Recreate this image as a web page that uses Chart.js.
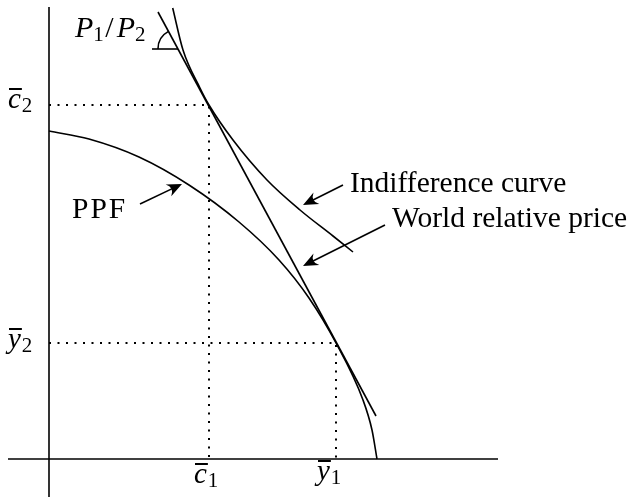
<!DOCTYPE html>
<html>
<head>
<meta charset="utf-8">
<script src="https://cdn.jsdelivr.net/npm/chart.js@4"></script>
<style>
  body { margin: 0; background: #fff; }
  #wrap { width: 639px; height: 499px; position: relative; }
</style>
</head>
<body>
<div id="wrap"><canvas id="ppfChart"></canvas></div>
<script>
'use strict';

// values (origin = where the axes cross)
const ppfX = [0, 40, 90, 140, 190, 230, 260, 287, 314, 323, 328];
const ppfY = [328, 320, 302, 274, 237, 199, 161, 116, 59, 29, 0];

const icX = [123.7, 134, 151, 160, 184, 218, 251, 284, 304];
const icY = [451, 409, 371, 354, 319, 279, 249, 223, 207];

const priceX = [109, 327];
const priceY = [447, 43];

const cBar = [160, 354];   // consumption point (c1, c2)
const yBar = [287, 116];   // production point (y1, y2)

const xAxisRange = [-41, 449];
const yAxisRange = [-38, 452];

function pts(xs, ys) {
    return xs.map((x, i) => ({ x: x, y: ys[i] }));
}

const black = '#000';

function line(data, extra) {
    return Object.assign({
        data: data,
        showLine: true,
        borderColor: black,
        borderWidth: 1.6,
        pointRadius: 0,
        fill: false
    }, extra || {});
}

const datasets = [
    line(pts(xAxisRange, [0, 0])),
    line(pts([0, 0], yAxisRange)),
    line([{ x: 0, y: cBar[1] }, { x: cBar[0], y: cBar[1] }, { x: cBar[0], y: 0 }],
        { borderDash: [2, 6.5], borderWidth: 2 }),
    line([{ x: 0, y: yBar[1] }, { x: yBar[0], y: yBar[1] }, { x: yBar[0], y: 0 }],
        { borderDash: [2, 6.5], borderWidth: 2 }),
    line(pts(ppfX, ppfY), { cubicInterpolationMode: 'monotone' }),
    line(pts(icX, icY), { cubicInterpolationMode: 'monotone' }),
    line(pts(priceX, priceY))
];

const SERIF = '"Liberation Serif", "DejaVu Serif", serif';

function arrow(ctx, x1, y1, x2, y2) {
    const a = Math.atan2(y2 - y1, x2 - x1);
    const len = 15, w = 6.5;
    const c = Math.cos(a), s = Math.sin(a);
    ctx.beginPath();
    ctx.moveTo(x1, y1);
    ctx.lineTo(x2 - c * len * 0.6, y2 - s * len * 0.6);
    ctx.stroke();
    ctx.beginPath();
    ctx.moveTo(x2, y2);
    ctx.lineTo(x2 - c * len - s * w, y2 - s * len + c * w);
    ctx.quadraticCurveTo(x2 - c * len * 0.55, y2 - s * len * 0.55,
        x2 - c * len + s * w, y2 - s * len - c * w);
    ctx.closePath();
    ctx.fill();
}

// italic letter with a bar on top and an upright subscript
function barSym(ctx, x, y, letter, sub) {
    ctx.font = 'italic 29px ' + SERIF;
    ctx.fillText(letter, x, y);
    const w = ctx.measureText(letter).width;
    ctx.fillRect(x + 1, y - 20, w, 2);
    ctx.font = '21px ' + SERIF;
    ctx.fillText(sub, x + w + 1, y + 4);
}

const annotations = {
    id: 'annotations',
    afterDatasetsDraw(chart) {
        const ctx = chart.ctx;
        const xs = chart.scales.x, ys = chart.scales.y;
        const px = v => xs.getPixelForValue(v);
        const py = v => ys.getPixelForValue(v);

        ctx.save();
        ctx.fillStyle = black;
        ctx.strokeStyle = black;
        ctx.lineWidth = 1.6;
        ctx.textBaseline = 'alphabetic';

        // text labels
        ctx.font = '29.5px ' + SERIF;
        ctx.fillText('Indifference curve', px(301), py(267));
        ctx.fillText('World relative price', px(343), py(232));
        ctx.letterSpacing = '2px';
        ctx.fillText('PPF', px(23), py(241));
        ctx.letterSpacing = '0px';

        // P1/P2
        let x0 = px(26), b = py(422);
        ctx.font = 'italic 30px ' + SERIF;
        ctx.fillText('P', x0, b);
        x0 += ctx.measureText('P').width;
        ctx.font = '21px ' + SERIF;
        ctx.fillText('1', x0, b + 4);
        x0 += 12;
        ctx.font = '30px ' + SERIF;
        ctx.fillText('/', x0, b);
        x0 += ctx.measureText('/').width + 3;
        ctx.font = 'italic 30px ' + SERIF;
        ctx.fillText('P', x0, b);
        x0 += ctx.measureText('P').width;
        ctx.font = '21px ' + SERIF;
        ctx.fillText('2', x0, b + 4);

        // axis symbols
        barSym(ctx, px(-41), py(351), 'c', '2');
        barSym(ctx, px(-41), py(111), 'y', '2');
        barSym(ctx, px(145), py(-24), 'c', '1');
        barSym(ctx, px(268), py(-21), 'y', '1');

        // angle mark on the price line
        const hY = 410;
        const t = (hY - priceY[0]) / (priceY[1] - priceY[0]);
        const cx = px(priceX[0] + t * (priceX[1] - priceX[0]));
        const cy = py(hY);
        ctx.beginPath();
        ctx.moveTo(px(103), cy);
        ctx.lineTo(cx, cy);
        ctx.stroke();
        const ang = Math.atan2(py(priceY[0]) - cy, px(priceX[0]) - cx);
        ctx.beginPath();
        ctx.arc(cx, cy, 20, Math.PI, ang + 2 * Math.PI, false);
        ctx.stroke();

        // arrows
        arrow(ctx, px(91), py(255), px(133), py(275));
        arrow(ctx, px(294), py(274), px(254), py(254));
        arrow(ctx, px(336), py(234), px(254), py(193));

        ctx.restore();
    }
};

new Chart(document.getElementById('ppfChart'), {
    type: 'scatter',
    data: { datasets: datasets },
    options: {
        responsive: true,
        maintainAspectRatio: false,
        animation: false,
        layout: { padding: 0 },
        plugins: { legend: { display: false }, tooltip: { enabled: false } },
        scales: {
            x: { type: 'linear', min: -49, max: 590, display: false },
            y: { type: 'linear', min: -40, max: 459, display: false }
        }
    },
    plugins: [annotations]
});
</script>
</body>
</html>
